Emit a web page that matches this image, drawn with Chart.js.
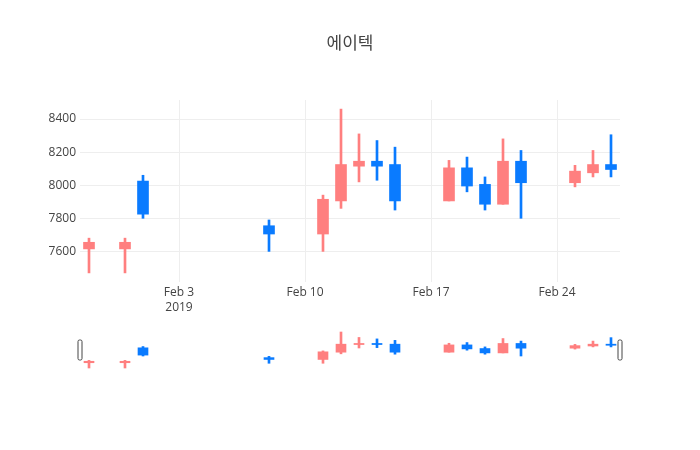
<!DOCTYPE html>
<html>
<head>
<meta charset="utf-8">
<script src="https://cdn.jsdelivr.net/npm/chart.js@4.4.1/dist/chart.umd.min.js"></script>
<style>
  body { margin: 0; background: #fff; }
  #wrap { position: relative; width: 700px; height: 450px; }
  canvas { position: absolute; left: 0; }
</style>
</head>
<body>
<div id="wrap">
  <canvas id="main" width="700" height="320" style="top:0"></canvas>
  <canvas id="slider" width="700" height="50" style="top:325px"></canvas>
</div>
<script>
// 일별 시세
const dates = ['2019-01-29', '2019-01-31', '2019-02-01', '2019-02-08', '2019-02-11', '2019-02-12',
  '2019-02-13', '2019-02-14', '2019-02-15', '2019-02-18', '2019-02-19', '2019-02-20',
  '2019-02-21', '2019-02-22', '2019-02-25', '2019-02-26', '2019-02-27'];
const open  = [7615, 7615, 8025, 7755, 7705, 7905, 8115, 8145, 8125, 7905, 8105, 8005, 7885, 8145, 8015, 8075, 8125];
const high  = [7680, 7680, 8060, 7790, 7940, 8460, 8310, 8270, 8230, 8150, 8170, 8050, 8280, 8210, 8120, 8210, 8305];
const low   = [7470, 7470, 7800, 7600, 7600, 7860, 8020, 8030, 7850, 7905, 7960, 7850, 7885, 7800, 7990, 8050, 8050];
const close = [7655, 7655, 7825, 7705, 7915, 8125, 8145, 8115, 7905, 8105, 7995, 7885, 8145, 8015, 8085, 8125, 8095];

// 축 눈금
const tickDates = ['2019-02-03', '2019-02-10', '2019-02-17', '2019-02-24'];
const tickLabels = [['Feb 3', '2019'], 'Feb 10', 'Feb 17', 'Feb 24'];
const yTicks = [7600, 7800, 8000, 8200, 8400];
const titleText = '에이텍';

const UP = '#ff7f7f';
const DOWN = '#0a7bff';

// 날짜 -> Feb 3 기준 일수
const base = Date.UTC(2019, 1, 3);
const toDay = s => {
  const p = s.split('-').map(Number);
  return (Date.UTC(p[0], p[1] - 1, p[2]) - base) / 86400000;
};
const days = dates.map(toDay);
const tickDays = tickDates.map(toDay);

const colorOf = ctx => close[ctx.dataIndex] >= open[ctx.dataIndex] ? UP : DOWN;

function candleSets(bodyW, wickW) {
  return [
    {
      data: days.map((d, i) => ({ x: d, y: [open[i], close[i]] })),
      backgroundColor: colorOf,
      barThickness: bodyW,
      grouped: false,
      minBarLength: 1
    },
    {
      data: days.map((d, i) => ({ x: d, y: [low[i], high[i]] })),
      backgroundColor: colorOf,
      barThickness: wickW,
      grouped: false
    }
  ];
}

Chart.defaults.font.family = '"Open Sans", "Noto Sans CJK KR", sans-serif';
Chart.defaults.font.size = 12;
Chart.defaults.color = '#444';

const xMin = -5.5, xMax = 24.5;
const yMin = 7415, yMax = 8515;

// 제목: 캔버스 가운데
const title = {
  id: 'centerTitle',
  afterDraw(chart) {
    const ctx = chart.ctx;
    ctx.save();
    ctx.fillStyle = '#444';
    ctx.font = '17px "Open Sans", "Noto Sans CJK KR", sans-serif';
    ctx.textAlign = 'center';
    ctx.textBaseline = 'middle';
    ctx.fillText(titleText, chart.width / 2, 44);
    ctx.restore();
  }
};

new Chart(document.getElementById('main'), {
  type: 'bar',
  data: { datasets: candleSets(11, 2) },
  options: {
    responsive: false,
    animation: false,
    layout: { padding: { left: 0, right: 80, top: 100, bottom: 0 } },
    plugins: { legend: { display: false }, tooltip: { enabled: false } },
    scales: {
      x: {
        type: 'linear',
        min: xMin,
        max: xMax,
        offset: false,
        afterBuildTicks: s => { s.ticks = tickDays.map(v => ({ value: v })); },
        afterFit: s => { s.height = 38; },
        grid: { color: '#eee', drawTicks: false, offset: false },
        border: { display: false },
        ticks: {
          padding: 3,
          maxRotation: 0,
          autoSkip: false,
          font: { size: 12, lineHeight: 1.25 },
          callback: (v, i) => tickLabels[i]
        }
      },
      y: {
        min: yMin,
        max: yMax,
        afterBuildTicks: s => { s.ticks = yTicks.map(v => ({ value: v })); },
        afterFit: s => { s.width = 80; },
        grid: { color: '#eee', drawTicks: false },
        border: { display: false },
        ticks: { padding: 4, callback: v => String(v) }
      }
    }
  },
  plugins: [title]
});

// 범위 슬라이더 손잡이
const handles = {
  id: 'handles',
  afterDraw(chart) {
    const { ctx, chartArea } = chart;
    const mid = (chartArea.top + chartArea.bottom) / 2;
    ctx.save();
    ctx.strokeStyle = '#444';
    ctx.fillStyle = '#fff';
    ctx.lineWidth = 1;
    [chartArea.left, chartArea.right].forEach(x => {
      ctx.beginPath();
      ctx.roundRect(x - 2, mid - 10, 4, 20, 1.5);
      ctx.fill();
      ctx.stroke();
    });
    ctx.restore();
  }
};

new Chart(document.getElementById('slider'), {
  type: 'bar',
  data: { datasets: candleSets(10, 2) },
  options: {
    responsive: false,
    animation: false,
    layout: { padding: { left: 80, right: 80, top: 5, bottom: 5 } },
    plugins: { legend: { display: false }, tooltip: { enabled: false } },
    scales: {
      x: { type: 'linear', min: xMin, max: xMax, offset: false, display: false },
      y: { min: yMin, max: yMax, display: false }
    }
  },
  plugins: [handles]
});
</script>
</body>
</html>
